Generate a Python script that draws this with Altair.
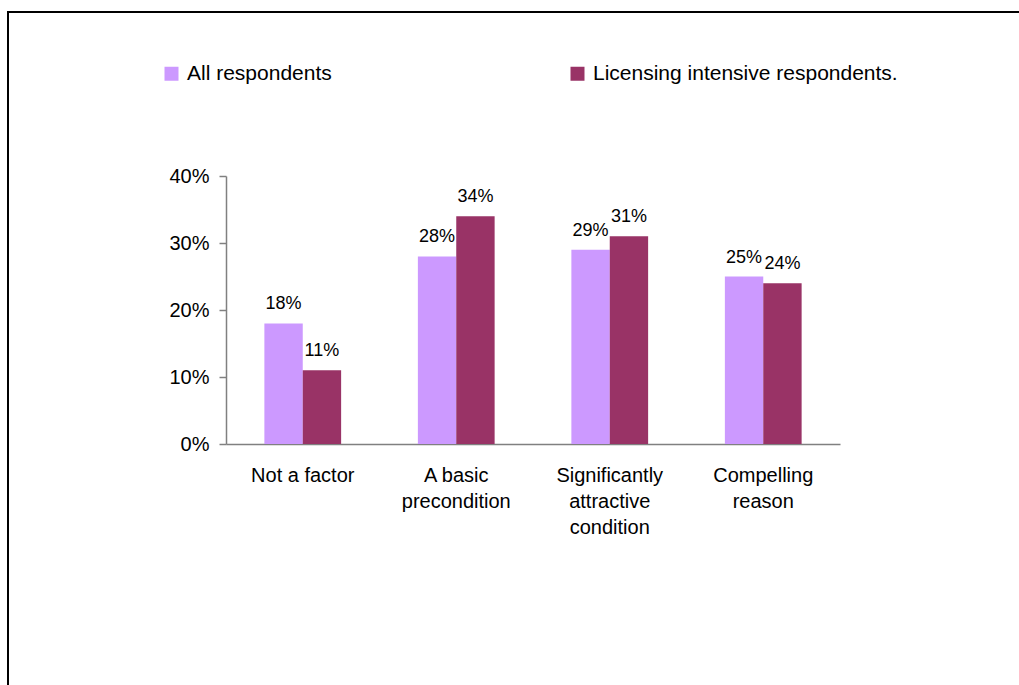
import altair as alt
import pandas as pd

categories = ["Not a factor", "A basic\nprecondition", "Significantly\nattractive\ncondition", "Compelling\nreason"]
series_names = ["All respondents", "Licensing intensive respondents."]
all_resp = [0.18, 0.28, 0.29, 0.25]
licensing = [0.11, 0.34, 0.31, 0.24]
colors = ["#CC99FF", "#993366"]
y_ticks = [0, 0.1, 0.2, 0.3, 0.4]

rows = []
for c, a, l in zip(categories, all_resp, licensing):
    rows.append({"category": c, "series": series_names[0], "value": a})
    rows.append({"category": c, "series": series_names[1], "value": l})
df = pd.DataFrame(rows)

FONT = "Liberation Sans"

x_enc = alt.X("category:N", sort=categories, title=None,
              scale=alt.Scale(paddingInner=0.5, paddingOuter=0.25),
              axis=alt.Axis(labelAngle=0, ticks=False, labelPadding=21,
                            labelExpr="split(datum.label, '\\n')",
                            labelLineHeight=26, labelFontSize=20,
                            labelFont=FONT, labelColor="black",
                            domainColor="#808080", domainWidth=1.5,
                            labelLimit=300))
y_enc = alt.Y("value:Q", title=None,
              scale=alt.Scale(domain=[0, 0.4]),
              axis=alt.Axis(values=y_ticks, format=".0%", grid=False,
                            tickSize=7, tickColor="#808080", domainColor="#808080",
                            domainWidth=1.5, tickWidth=1.5,
                            labelFontSize=20, labelFont=FONT, labelColor="black",
                            labelPadding=10))
xoff = alt.XOffset("series:N", sort=series_names)

bars = alt.Chart(df).mark_bar().encode(
    x=x_enc, y=y_enc, xOffset=xoff,
    color=alt.Color("series:N", sort=series_names,
                    scale=alt.Scale(domain=series_names, range=colors),
                    legend=alt.Legend(title=None, orient="none", legendX=-65, legendY=-113,
                                      direction="horizontal", columns=2,
                                      symbolType="square", symbolSize=196,
                                      symbolStrokeWidth=0, symbolOpacity=1,
                                      labelFontSize=21, labelFont=FONT,
                                      labelColor="black", columnPadding=235,
                                      labelOffset=5, labelLimit=400))
)

labels = alt.Chart(df).mark_text(baseline="bottom", dy=-10, fontSize=18, font=FONT,
                                 color="black").encode(
    x=alt.X("category:N", sort=categories),
    xOffset=xoff,
    y="value:Q",
    text=alt.Text("value:Q", format=".0%"),
)

frame = alt.Chart(pd.DataFrame({"a": [0]})).mark_rect(
    fillOpacity=0, stroke="black", strokeWidth=2
).encode(x=alt.value(-218), x2=alt.value(820), y=alt.value(-164), y2=alt.value(540))

chart = alt.layer(frame, bars, labels).properties(
    width=614, height=268,
    autosize=alt.AutoSizeParams(type="none"),
    padding={"left": 226, "top": 176, "right": 179, "bottom": 241},
    background="white",
).configure_view(stroke=None)

chart.save("out.html", embed_options={"renderer": "svg", "actions": False})
